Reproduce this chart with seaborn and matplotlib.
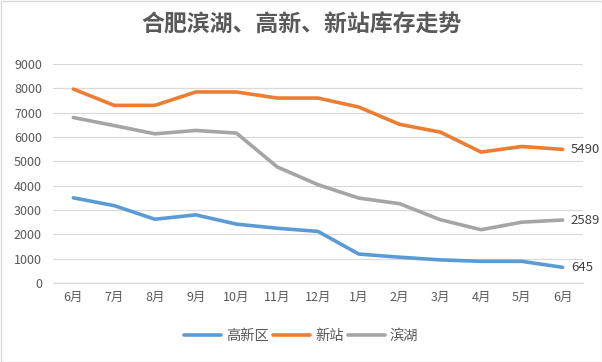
import matplotlib
matplotlib.use("Agg")
import matplotlib.pyplot as plt
import seaborn as sns
import pandas as pd
from matplotlib.patches import Rectangle
from matplotlib.lines import Line2D

months = ["6月", "7月", "8月", "9月", "10月", "11月", "12月", "1月", "2月", "3月", "4月", "5月", "6月"]
gaoxin = [3500, 3180, 2620, 2800, 2420, 2250, 2120, 1190, 1060, 950, 890, 890, 645]
xinzhan = [7970, 7300, 7300, 7850, 7850, 7600, 7600, 7230, 6520, 6200, 5380, 5610, 5490]
binhu = [6800, 6470, 6130, 6270, 6160, 4770, 4040, 3490, 3260, 2600, 2190, 2500, 2589]
series_names = ["高新区", "新站", "滨湖"]
colors = ["#5B9BD5", "#ED7D31", "#A5A5A5"]

sns.set_theme(style="white")
plt.rcParams["font.family"] = ["Noto Sans CJK SC", "DejaVu Sans"]

rows = []
for name, vals in zip(series_names, [gaoxin, xinzhan, binhu]):
    for i, v in enumerate(vals):
        rows.append({"idx": i, "value": v, "series": name})
df = pd.DataFrame(rows)

fig = plt.figure(figsize=(6.02, 3.62), dpi=100)
fig.patch.set_facecolor("white")
ax = fig.add_axes([53/602, 1-283/362, 530/602, (283-64)/362])

sns.lineplot(data=df, x="idx", y="value", hue="series", palette=colors,
             hue_order=series_names, linewidth=2.6, ax=ax, legend=False)
for l in ax.lines:
    l.set_solid_capstyle("round")

ax.set_xlim(-0.5, 12.5)
ax.set_ylim(0, 9000)
ax.set_yticks(range(0, 9001, 1000))
ax.set_xticks(range(len(months)))
ax.set_xticklabels(months)
ax.tick_params(axis="both", colors="#595959", labelsize=9, length=0)
ax.tick_params(axis="y", pad=8)
ax.tick_params(axis="x", pad=6)
for lab in ax.get_xticklabels() + ax.get_yticklabels():
    lab.set_color("#595959")
ax.set_xlabel("")
ax.set_ylabel("")
ax.grid(axis="y", color="#D9D9D9", linewidth=0.9)
ax.set_axisbelow(True)
for s in ["top", "right", "left"]:
    ax.spines[s].set_visible(False)
ax.spines["bottom"].set_color("#D9D9D9")
ax.spines["bottom"].set_linewidth(0.9)

# end labels
for vals in [gaoxin, xinzhan, binhu]:
    ax.annotate(f"{vals[-1]}", xy=(12, vals[-1]), xytext=(6, 0), textcoords="offset points",
                va="center", ha="left", fontsize=9.5, color="#404040")

fig.text(0.5, 1-25/362, "合肥滨湖、高新、新站库存走势", ha="center", va="center",
         fontsize=16.5, fontweight="bold", color="#595959")

# legend
handles = [Line2D([0], [0], color=c, lw=2.6, solid_capstyle="round") for c in colors]
fig.legend(handles, series_names, loc="center", bbox_to_anchor=(0.5, 1-336/362), ncol=3,
           frameon=False, fontsize=10.3, handlelength=2.6, handletextpad=0.35, columnspacing=0.3,
           labelcolor="#595959")

fig.add_artist(Rectangle((0.5/602, 0.5/362), 1-1/602, 1-1/362, transform=fig.transFigure,
                         fill=False, edgecolor="#D9D9D9", linewidth=1))

fig.savefig("out.png", dpi=100, facecolor="white")
